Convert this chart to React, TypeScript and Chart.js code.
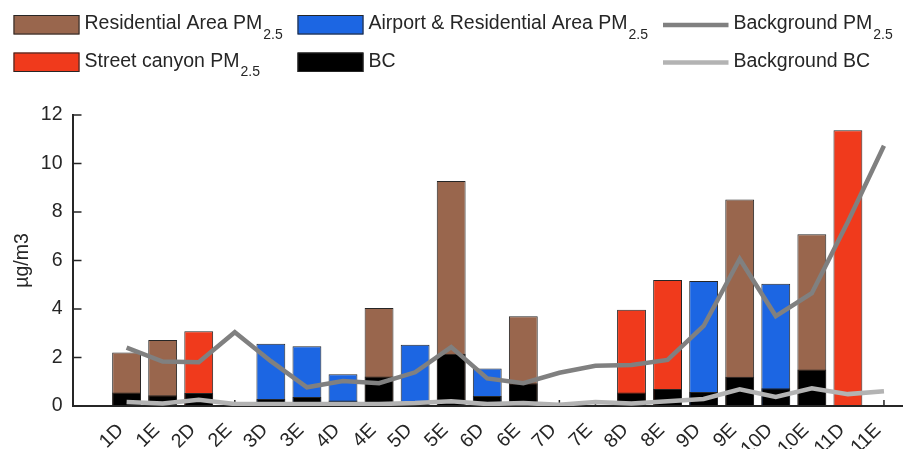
import { useEffect, useRef } from 'react';
import { Chart, registerables } from 'chart.js';

Chart.register(...registerables);

// Sampling sites (D = day, E = evening)
const categories = ['1D', '1E', '2D', '2E', '3D', '3E', '4D', '4E', '5D', '5E', '6D', '6E', '7D', '7E', '8D', '8E', '9D', '9E', '10D', '10E', '11D', '11E'];

// PM2.5 by site type (null where that type was not sampled)
const residentialPM = [2.21, 2.72, null, null, null, null, null, 4.04, null, 9.28, null, 3.70, null, null, null, null, null, 8.52, null, 7.08, null, null];
const airportPM = [null, null, null, null, 2.57, 2.46, 1.31, null, 2.53, null, 1.55, null, null, null, null, null, 5.15, null, 5.04, null, null, null];
const streetPM = [null, null, 3.08, null, null, null, null, null, null, null, null, null, null, null, 3.97, 5.20, null, null, null, null, 11.37, null];
const bcValues = [0.56, 0.44, 0.54, null, 0.29, 0.37, 0.23, 1.22, 0.15, 2.15, 0.41, 0.94, null, null, 0.56, 0.70, 0.58, 1.21, 0.73, 1.51, null, null];

// Background station series
const backgroundPM = [2.41, 1.83, 1.80, 3.04, 1.85, 0.77, 1.03, 0.94, 1.39, 2.43, 1.14, 0.94, 1.37, 1.66, 1.69, 1.90, 3.30, 6.06, 3.71, 4.65, 7.60, 10.73];
const backgroundBC = [0.17, 0.10, 0.26, 0.08, 0.08, 0.08, 0.08, 0.08, 0.12, 0.20, 0.08, 0.12, 0.05, 0.16, 0.10, 0.20, 0.29, 0.69, 0.37, 0.73, 0.49, 0.61];

const yTicks = [0, 2, 4, 6, 8, 10, 12];

const FONT = "'Liberation Sans', Arial, Helvetica, sans-serif";
const INK = '#262626';
const BROWN = '#99664d';
const BLUE = '#1c66e3';
const RED = '#f03a1c';
const DARK_GREY = '#808080';
const LIGHT_GREY = '#b3b3b3';

type Pt = { x: number; y: number };
const toPoints = (arr: (number | null)[]): Pt[] =>
  arr.map((v, i) => (v == null ? null : { x: i + 1, y: v })).filter((p): p is Pt => p !== null);

type LegendItem = { kind: 'box' | 'line'; color: string; label: string; sub?: string; x: number; y: number };

const legendItems: LegendItem[] = [
  { kind: 'box', color: BROWN, label: 'Residential Area PM', sub: '2.5', x: 13.5, y: 15 },
  { kind: 'box', color: BLUE, label: 'Airport & Residential Area PM', sub: '2.5', x: 297.5, y: 15 },
  { kind: 'line', color: DARK_GREY, label: 'Background PM', sub: '2.5', x: 663, y: 15 },
  { kind: 'box', color: RED, label: 'Street canyon PM', sub: '2.5', x: 13.5, y: 52.5 },
  { kind: 'box', color: '#000000', label: 'BC', x: 297.5, y: 52.5 },
  { kind: 'line', color: LIGHT_GREY, label: 'Background BC', x: 663, y: 52.5 },
];

const legendPlugin = {
  id: 'subscriptLegend',
  afterDraw(chart: Chart) {
    const ctx = chart.ctx;
    ctx.save();
    for (const it of legendItems) {
      if (it.kind === 'box') {
        ctx.fillStyle = it.color;
        ctx.fillRect(it.x, it.y, 66, 19.5);
        ctx.strokeStyle = INK;
        ctx.lineWidth = 1;
        ctx.strokeRect(it.x + 0.5, it.y + 0.5, 65, 18.5);
      } else {
        ctx.strokeStyle = it.color;
        ctx.lineWidth = 4.5;
        ctx.beginPath();
        ctx.moveTo(it.x, it.y + 10);
        ctx.lineTo(it.x + 65.5, it.y + 10);
        ctx.stroke();
      }
      const tx = it.kind === 'box' ? it.x + 71 : it.x + 70.5;
      const base = it.y + 14;
      ctx.fillStyle = INK;
      ctx.textBaseline = 'alphabetic';
      ctx.textAlign = 'left';
      ctx.font = `19.5px ${FONT}`;
      ctx.fillText(it.label, tx, base);
      if (it.sub) {
        const w = ctx.measureText(it.label).width;
        ctx.font = `14px ${FONT}`;
        ctx.fillText(it.sub, tx + w + 1, base + 9.5);
      }
    }
    ctx.restore();
  },
};

// Inward tick marks, drawn beneath the bars
const innerTicksPlugin = {
  id: 'innerTicks',
  beforeDatasetsDraw(chart: Chart) {
    const { ctx, scales, chartArea } = chart;
    const xs = scales.x;
    const ys = scales.y;
    ctx.save();
    ctx.strokeStyle = INK;
    ctx.lineWidth = 1.5;
    ctx.beginPath();
    for (const v of yTicks) {
      const py = ys.getPixelForValue(v);
      ctx.moveTo(chartArea.left, py);
      ctx.lineTo(chartArea.left + 9, py);
    }
    for (let i = 1; i <= categories.length; i++) {
      const px = xs.getPixelForValue(i);
      ctx.moveTo(px, chartArea.bottom);
      ctx.lineTo(px, chartArea.bottom - 6);
    }
    ctx.stroke();
    ctx.restore();
  },
};

const barCommon = {
  type: 'bar' as const,
  grouped: false,
  categoryPercentage: 0.8,
  barPercentage: 1,
  borderWidth: 1,
  borderColor: INK,
  borderSkipped: false as const,
};

export default function App() {
  const canvasRef = useRef<HTMLCanvasElement | null>(null);

  useEffect(() => {
    const canvas = canvasRef.current;
    if (!canvas) return;
    const chart = new Chart(canvas, {
      type: 'bar',
      data: {
        datasets: [
          {
            type: 'line',
            label: 'Background PM2.5',
            data: toPoints(backgroundPM),
            borderColor: DARK_GREY,
            borderWidth: 4.5,
            pointRadius: 0,
            tension: 0,
            order: 0,
          },
          {
            type: 'line',
            label: 'Background BC',
            data: toPoints(backgroundBC),
            borderColor: LIGHT_GREY,
            borderWidth: 4.5,
            pointRadius: 0,
            tension: 0,
            order: 0,
          },
          { ...barCommon, label: 'BC', data: toPoints(bcValues), backgroundColor: '#000000', order: 1 },
          { ...barCommon, label: 'Residential Area PM2.5', data: toPoints(residentialPM), backgroundColor: BROWN, order: 2 },
          { ...barCommon, label: 'Airport & Residential Area PM2.5', data: toPoints(airportPM), backgroundColor: BLUE, order: 2 },
          { ...barCommon, label: 'Street canyon PM2.5', data: toPoints(streetPM), backgroundColor: RED, order: 2 },
        ] as any,
      },
      options: {
        animation: false,
        responsive: false,
        maintainAspectRatio: false,
        layout: { padding: { top: 115, right: 13, left: 0, bottom: 0 } },
        plugins: {
          legend: { display: false },
          tooltip: { enabled: false },
        },
        scales: {
          x: {
            type: 'linear',
            min: 0,
            max: 22,
            grid: { display: false, drawTicks: false },
            border: { display: true, color: INK, width: 2 },
            ticks: {
              stepSize: 1,
              autoSkip: false,
              maxTicksLimit: 40,
              minRotation: 45,
              maxRotation: 45,
              padding: 13,
              labelOffset: -6,
              color: INK,
              font: { family: FONT, size: 19.5 },
              callback: (v: any) => categories[Number(v) - 1] ?? '',
            },
            afterFit: (s: any) => {
              s.height = 43;
              s.paddingLeft = 0;
              s.paddingRight = 0;
            },
          },
          y: {
            min: 0,
            max: 12,
            grid: { display: false, drawTicks: false },
            border: { display: true, color: INK, width: 2 },
            ticks: {
              stepSize: 2,
              padding: 10,
              color: INK,
              font: { family: FONT, size: 19.5 },
            },
            title: {
              display: true,
              text: 'µg/m3',
              color: INK,
              font: { family: FONT, size: 19.5 },
              padding: { top: 11, bottom: 0 },
            },
            afterFit: (s: any) => {
              s.width = 72.5;
              s.paddingTop = 0;
              s.paddingBottom = 0;
            },
          },
        },
      },
      plugins: [innerTicksPlugin, legendPlugin],
    });
    return () => chart.destroy();
  }, []);

  return (
    <div style={{ position: 'fixed', left: 0, top: 0, width: 915, height: 449, background: '#ffffff' }}>
      <canvas ref={canvasRef} width={915} height={449} style={{ display: 'block', width: 915, height: 449 }} />
    </div>
  );
}
